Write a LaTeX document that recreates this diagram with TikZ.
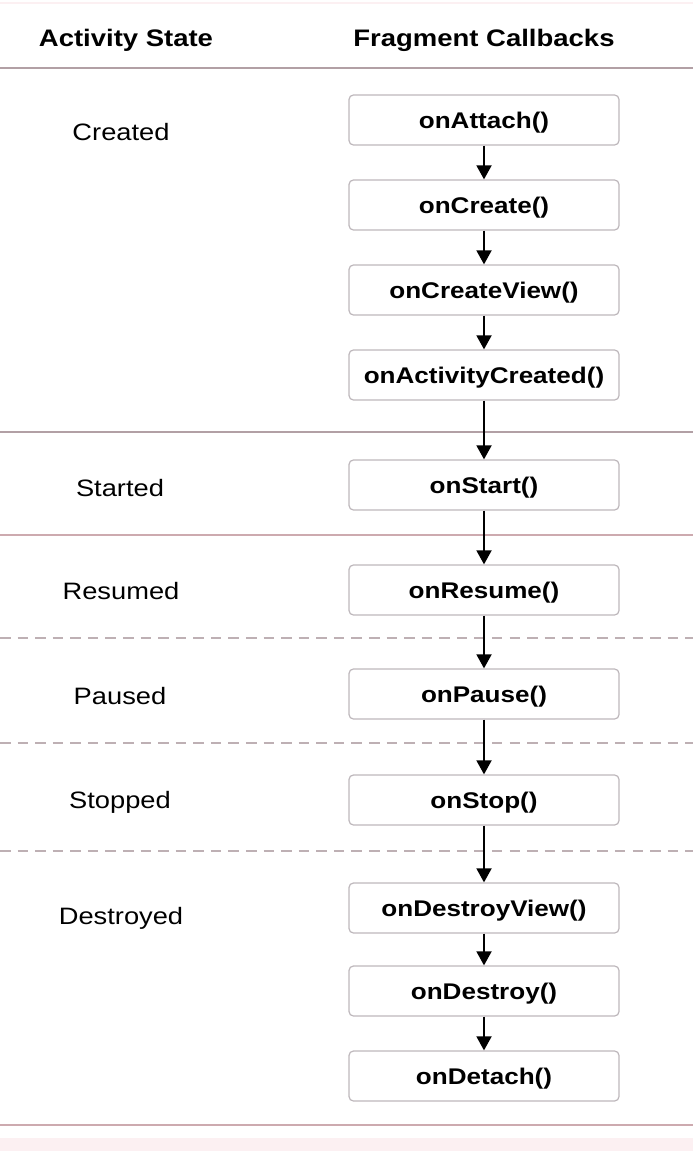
\documentclass[tikz,border=0pt]{standalone}
\usepackage{fontspec}
\setmainfont[FakeStretch=1.15]{Liberation Sans}
\usetikzlibrary{arrows.meta}
\definecolor{rulegray}{RGB}{178,160,165}
\definecolor{rulepink}{RGB}{205,170,175}
\definecolor{boxgray}{RGB}{190,184,188}
\definecolor{dashgray}{RGB}{190,176,180}
\definecolor{fadepink}{RGB}{252,240,242}

\begin{document}
\begin{tikzpicture}[x=0.02cm, y=-0.02cm,
	callback/.style={draw=boxgray, line width=0.7pt, rounded corners=2.5pt, fill=white, minimum width=5.4cm, minimum height=1cm, text height=12pt, text depth=2.7pt, font=\fontsize{12.9}{15}\selectfont\bfseries},
	statelabel/.style={font=\fontsize{13.5}{16}\selectfont},
	header/.style={font=\fontsize{13.6}{16}\selectfont\bfseries},
	flow/.style={line width=1.2pt, -{Triangle[width=8.5pt,length=8pt]}},
	sep/.style={draw=rulegray, line width=0.8pt},
	sepdash/.style={draw=dashgray, line width=0.8pt, dash pattern=on 6pt off 4pt}]
	\useasboundingbox (0,0) rectangle (693,1151);
	% faint edges of the screenshot
	\fill[fadepink] (0,1138) rectangle (693,1151);
	\draw[fadepink, line width=1pt] (0,3) -- (693,3);

	% column headers
	\node[header] (hstate) at (126,40) {Activity State};
	\node[header] (hcall) at (484,40) {Fragment Callbacks};

	% separators between the states
	\draw[sep] (0,68) -- (693,68);
	\draw[sep] (0,432) -- (693,432);
	\draw[sep, draw=rulepink] (0,535) -- (693,535);
	\draw[sepdash] (0,638) -- (693,638);
	\draw[sepdash] (0,743) -- (693,743);
	\draw[sepdash] (0,851) -- (693,851);
	\draw[sep, draw=rulepink] (0,1125) -- (693,1125);

	% activity states
	\node[statelabel] (created) at (121,132) {Created};
	\node[statelabel] (started) at (120,488) {Started};
	\node[statelabel] (resumed) at (121,591) {Resumed};
	\node[statelabel] (paused) at (120,696) {Paused};
	\node[statelabel] (stopped) at (120,802) {Stopped};
	\node[statelabel] (destroyed) at (121,918) {Destroyed};

	% fragment callbacks
	\node[callback] (attach) at (484,120) {onAttach()};
	\node[callback] (create) at (484,205) {onCreate()};
	\node[callback] (createview) at (484,290) {onCreateView()};
	\node[callback] (actcreated) at (484,375) {onActivityCreated()};
	\node[callback] (start) at (484,485) {onStart()};
	\node[callback] (resume) at (484,590) {onResume()};
	\node[callback] (pause) at (484,694) {onPause()};
	\node[callback] (stop) at (484,800) {onStop()};
	\node[callback] (destroyview) at (484,908) {onDestroyView()};
	\node[callback] (destroy) at (484,991) {onDestroy()};
	\node[callback] (detach) at (484,1076) {onDetach()};

	\draw[flow] (attach) -- (create);
	\draw[flow] (create) -- (createview);
	\draw[flow] (createview) -- (actcreated);
	\draw[flow] (actcreated) -- (start);
	\draw[flow] (start) -- (resume);
	\draw[flow] (resume) -- (pause);
	\draw[flow] (pause) -- (stop);
	\draw[flow] (stop) -- (destroyview);
	\draw[flow] (destroyview) -- (destroy);
	\draw[flow] (destroy) -- (detach);
\end{tikzpicture}
\end{document}
